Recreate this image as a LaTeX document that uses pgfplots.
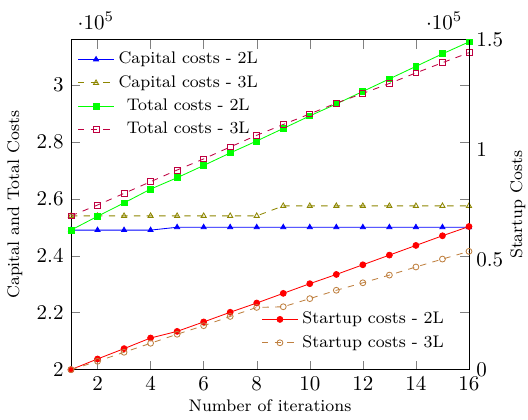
\documentclass[border=0pt]{standalone}
\usepackage{pgfplots}
\pgfplotsset{compat=1.18}
\begin{document}
\begin{tikzpicture}
\begin{axis}[
  name=ax,
  scale only axis, width=189.5pt, height=157pt,
  xmin=1, xmax=16, ymin=2e5, ymax=3.158e5,
  xtick={2,4,6,8,10,12,14,16},
  ytick={200000,220000,240000,260000,280000,300000},
  xlabel={Number of iterations}, ylabel={Capital and Total Costs},
  label style={font=\footnotesize},
  xlabel shift=-2.5pt,
  legend style={at={(0,0.99)}, anchor=north west, draw=none, fill=none, font=\footnotesize},
  legend cell align=center,
  every axis plot/.append style={mark size=1.4pt},
]
\addplot[blue, mark=triangle*] coordinates {(1,249000)(2,249000)(3,249000)(4,249000)(5,250000)(6,250000)(7,250000)(8,250000)(9,250000)(10,250000)(11,250000)(12,250000)(13,250000)(14,250000)(15,250000)(16,250000)};
\addlegendentry{Capital costs - 2L}
\addplot[olive, dashed, mark=triangle, mark options={solid}] coordinates {(1,254000)(2,254000)(3,254000)(4,254000)(5,254000)(6,254000)(7,254000)(8,254000)(9,257500)(10,257500)(11,257500)(12,257500)(13,257500)(14,257500)(15,257500)(16,257500)};
\addlegendentry{Capital costs - 3L}
\addplot[green, mark=square*] coordinates {(1,249000)(2,253850)(3,258550)(4,263400)(5,267400)(6,271700)(7,276100)(8,280300)(9,284700)(10,289100)(11,293300)(12,297700)(13,302100)(14,306500)(15,310900)(16,315100)};
\addlegendentry{Total costs - 2L}
\addplot[purple, dashed, mark=square, mark options={solid}] coordinates {(1,254000)(2,257800)(3,261900)(4,266000)(5,270100)(6,274000)(7,278200)(8,282300)(9,286100)(10,289800)(11,293600)(12,297000)(13,300500)(14,304200)(15,307800)(16,311300)};
\addlegendentry{Total costs - 3L}
\end{axis}
\begin{axis}[
  scale only axis, width=189.5pt, height=157pt,
  xmin=1, xmax=16, ymin=0, ymax=1.5e5,
  axis y line*=right, axis x line=none,
  ytick={0,50000,100000,150000},
  ytick style={draw=none},
  ylabel={Startup Costs},
  label style={font=\footnotesize},
  ylabel shift=-3.5pt,
  legend style={at={(0.964,0.032)}, anchor=south east, draw=none, fill=none, font=\footnotesize},
  legend cell align=center,
  every axis plot/.append style={mark size=1.4pt},
]
\addplot[red, mark=*] coordinates {(1,0)(2,4850)(3,9550)(4,14400)(5,17400)(6,21700)(7,26100)(8,30300)(9,34700)(10,39100)(11,43300)(12,47700)(13,52100)(14,56500)(15,60900)(16,65100)};
\addlegendentry{Startup costs - 2L}
\addplot[brown, dashed, mark=o, mark options={solid}] coordinates {(1,0)(2,3800)(3,7900)(4,12000)(5,16100)(6,20000)(7,24200)(8,28300)(9,28600)(10,32300)(11,36100)(12,39500)(13,43000)(14,46700)(15,50300)(16,53800)};
\addlegendentry{Startup costs - 3L}
\end{axis}
\pgfresetboundingbox
\path ([xshift=-33.8pt,yshift=-23.8pt]ax.south west) rectangle ([xshift=28.1pt,yshift=19pt]ax.north east);
\end{tikzpicture}
\end{document}
